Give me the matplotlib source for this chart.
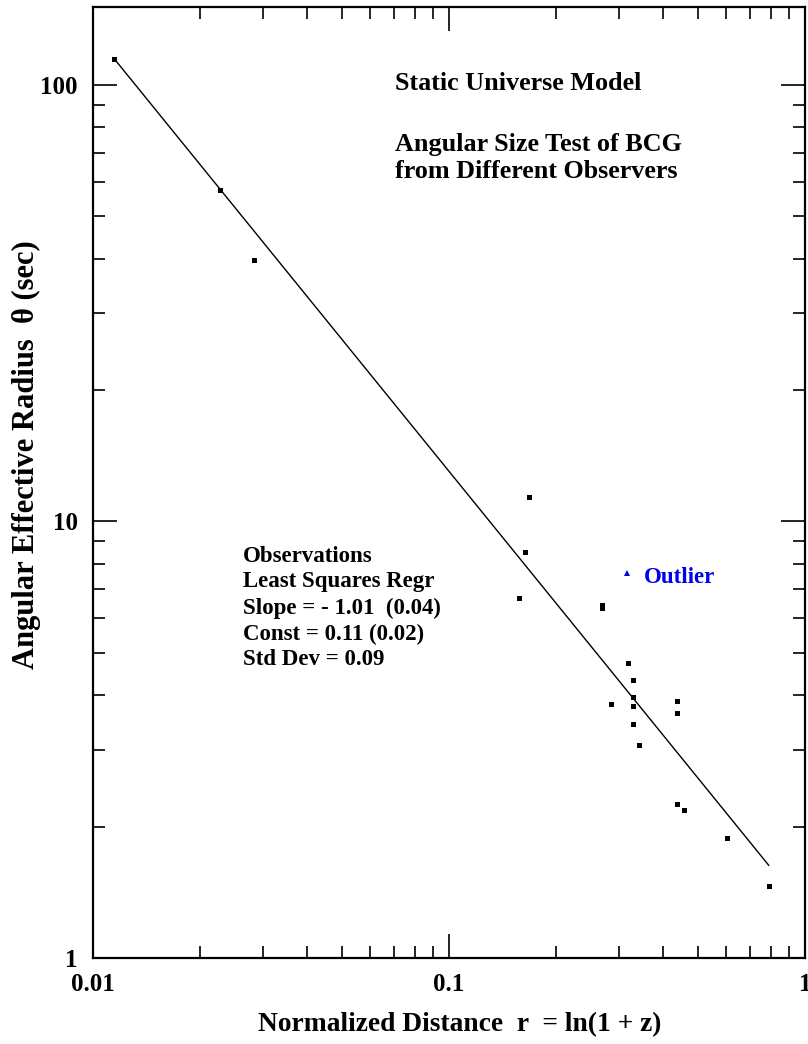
import matplotlib.pyplot as plt
import numpy as np

# observed BCG points (normalized distance r, angular effective radius in sec)
r_obs = [0.01143, 0.02278, 0.02835, 0.1678, 0.1632, 0.1568, 0.2690, 0.2690,
         0.3178, 0.3294, 0.3294, 0.2847, 0.3294, 0.3294, 0.3410, 0.4370,
         0.4370, 0.4370, 0.4565, 0.6026, 0.7907]
theta_obs = [114.9, 57.55, 39.7, 11.38, 8.52, 6.68, 6.44, 6.34,
             4.75, 4.33, 3.96, 3.82, 3.78, 3.43, 3.08, 3.87,
             3.65, 2.25, 2.18, 1.88, 1.46]

# the outlier
r_out = [0.3171]
theta_out = [7.61]

# least squares fit as drawn: log(theta) = const + slope * log(r)
fit_slope = -1.005
fit_const = 0.110
fit_r = [0.01143, 0.7907]

x_ticks = [0.01, 0.1, 1]
x_ticklabels = ["0.01", "0.1", "1"]
y_ticks = [1, 10, 100]
y_ticklabels = ["1", "10", "100"]

info_lines = ["Observations", "Least Squares Regr", "Slope = - 1.01  (0.04)",
              "Const = 0.11 (0.02)", "Std Dev = 0.09"]
title_lines = ["Static Universe Model", "Angular Size Test of BCG",
               "from Different Observers"]

plt.rcParams['font.family'] = ['Liberation Serif', 'DejaVu Serif']
plt.rcParams['font.weight'] = 'bold'

fig = plt.figure(figsize=(8.08, 10.44), dpi=100)
ax = fig.add_axes([93 / 808, 1 - 958 / 1044, 712 / 808, 951 / 1044])

ax.set_xscale('log')
ax.set_yscale('log')
ax.set_xlim(0.01, 1)
ax.set_ylim(1, 150.9)

fit_x = np.array(fit_r)
fit_y = 10 ** (fit_const + fit_slope * np.log10(fit_x))
ax.plot(fit_x, fit_y, '-', color='black', linewidth=1.0)

ax.plot(r_obs, theta_obs, 's', color='black', markersize=3.6, markeredgewidth=0)
ax.plot(r_out, theta_out, '^', color='#0000ee', markersize=4.5, markeredgewidth=0)

ax.set_xticks(x_ticks)
ax.set_xticklabels(x_ticklabels)
ax.set_yticks(y_ticks)
ax.set_yticklabels(y_ticklabels)

ax.tick_params(which='both', direction='in', top=True, right=True, width=1.2)
ax.tick_params(which='major', length=17, labelsize=18)
ax.tick_params(which='minor', length=8.5)
ax.tick_params(axis='y', which='major', pad=11)
ax.tick_params(axis='x', which='major', pad=11)
for s in ax.spines.values():
    s.set_linewidth(1.6)

ax.text(0.424, 0.920, title_lines[0], transform=ax.transAxes, fontsize=18.8, va='center')
ax.text(0.424, 0.855, title_lines[1], transform=ax.transAxes, fontsize=18.8, va='center')
ax.text(0.424, 0.8265, title_lines[2], transform=ax.transAxes, fontsize=18.8, va='center')

ys = [0.4227, 0.3954, 0.3680, 0.3407, 0.3134]
for line, yy in zip(info_lines, ys):
    ax.text(0.2107, yy, line, transform=ax.transAxes, fontsize=16.5, va='center')

ax.text(0.7739, 0.4006, "Outlier", transform=ax.transAxes, fontsize=16.5,
        va='center', color='#0000ee')

fig.text(460 / 808, 1 - 1025 / 1044, "Normalized Distance  r  = ln(1 + z)",
         fontsize=19.8, ha='center', va='center')
fig.text(26 / 808, 1 - 455 / 1044, "Angular Effective Radius  \u03b8 (sec)",
         fontsize=22, ha='center', va='center', rotation=90)

fig.savefig('out.png', dpi=100)
